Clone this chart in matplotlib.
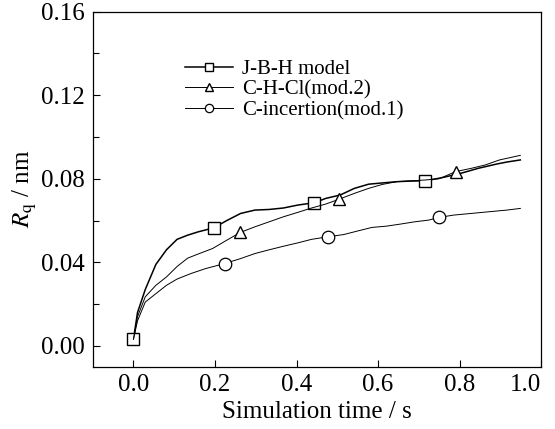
import numpy as np
import matplotlib
matplotlib.use('Agg')
import matplotlib.pyplot as plt
from matplotlib.ticker import MultipleLocator

plt.rcParams['font.family'] = ['Liberation Serif', 'DejaVu Serif']
plt.rcParams['mathtext.fontset'] = 'stix'

# J-B-H model
jbh_t = [0, 0.01, 0.029, 0.055, 0.081, 0.107, 0.133, 0.159, 0.197, 0.229, 0.263, 0.298,
         0.333, 0.368, 0.403, 0.443, 0.472, 0.507, 0.542, 0.577, 0.611, 0.646, 0.681,
         0.716, 0.759, 0.803, 0.846, 0.89, 0.916, 0.949]
jbh_rq = [0.0032, 0.016, 0.027, 0.039, 0.046, 0.051, 0.053, 0.0546, 0.0565, 0.060, 0.0634,
          0.065, 0.0653, 0.066, 0.0674, 0.0685, 0.0706, 0.0722, 0.0754, 0.0774, 0.078,
          0.0786, 0.0789, 0.079, 0.0806, 0.0826, 0.085, 0.087, 0.088, 0.089]
jbh_marks = [0, 8, 15, 23]

# C-H-Cl (mod.2)
chcl_t = [0, 0.01, 0.029, 0.055, 0.081, 0.107, 0.133, 0.159, 0.194, 0.229, 0.262, 0.298,
          0.333, 0.368, 0.403, 0.437, 0.472, 0.503, 0.542, 0.577, 0.611, 0.646, 0.681,
          0.716, 0.75, 0.79, 0.829, 0.863, 0.898, 0.949]
chcl_rq = [0.0032, 0.014, 0.0235, 0.029, 0.033, 0.038, 0.042, 0.044, 0.0466, 0.0506, 0.0543,
           0.057, 0.0594, 0.0618, 0.0639, 0.066, 0.0679, 0.0701, 0.073, 0.0754, 0.0773,
           0.0786, 0.079, 0.0794, 0.080, 0.0834, 0.085, 0.0866, 0.089, 0.0912]
chcl_marks = [10, 17, 25]

# C-incertion (mod.1)
cins_t = [0, 0.01, 0.029, 0.055, 0.081, 0.107, 0.142, 0.177, 0.2235, 0.263, 0.298, 0.333,
          0.368, 0.403, 0.437, 0.4765, 0.516, 0.55, 0.585, 0.62, 0.655, 0.69, 0.724, 0.75,
          0.785, 0.829, 0.872, 0.916, 0.949]
cins_rq = [0.0032, 0.012, 0.021, 0.025, 0.029, 0.032, 0.0347, 0.037, 0.0394, 0.0418, 0.0442,
           0.046, 0.0477, 0.0493, 0.051, 0.0522, 0.0533, 0.055, 0.0567, 0.0573, 0.0583,
           0.0594, 0.0602, 0.0615, 0.0626, 0.0634, 0.0642, 0.065, 0.0658]
cins_marks = [8, 15, 23]

fig = plt.figure(figsize=(5.55, 4.29), dpi=100)
ax = fig.add_axes([0.167, 0.145, 0.808, 0.828])

ax.plot(jbh_t, jbh_rq, color='black', lw=1.1, marker='s', markevery=jbh_marks,
        ms=8, mfc='white', mec='black', mew=1.0, label='J-B-H model')
ax.plot(chcl_t, chcl_rq, color='black', lw=0.7, marker='^', markevery=chcl_marks,
        ms=9, mfc='white', mec='black', mew=1.0, label='C-H-Cl(mod.2)')
ax.plot(cins_t, cins_rq, color='black', lw=0.7, marker='o', markevery=cins_marks,
        ms=9, mfc='white', mec='black', mew=0.9, label='C-incertion(mod.1)')

ax.set_xlim(-0.1, 1.0)
ax.set_ylim(-0.01, 0.16)
ax.xaxis.set_major_locator(MultipleLocator(0.2))
ax.yaxis.set_major_locator(MultipleLocator(0.04))
ax.yaxis.set_minor_locator(MultipleLocator(0.02))
ax.xaxis.set_major_formatter(plt.FuncFormatter(lambda v, p: f'{v:.1f}'))
ax.yaxis.set_major_formatter(plt.FuncFormatter(lambda v, p: f'{v:.2f}'))
ax.tick_params(which='both', direction='in', labelsize=18)
ax.tick_params(which='major', length=5, width=0.8)
ax.tick_params(which='minor', length=4, width=0.8)
ax.tick_params(axis='y', pad=6)
ax.tick_params(axis='x', pad=5)
for s in ax.spines.values():
    s.set_linewidth(0.9)

ax.set_xlabel('Simulation time / s', fontsize=18, labelpad=4)
ax.set_ylabel(r'$R_\mathrm{q}$ / nm', fontsize=18, labelpad=1)

leg = ax.legend(loc='upper left', bbox_to_anchor=(0.205, 0.865), frameon=False,
                fontsize=15, handlelength=2.3, handletextpad=0.45,
                labelspacing=0.05, borderpad=0, borderaxespad=0)
for ln in leg.get_lines():
    ln.set_markersize(6)

# keep the "1.0" label inside the figure edge
fig.canvas.draw()
ax.xaxis.get_major_ticks()[-1].label1.set_horizontalalignment('right')
for t in ax.xaxis.get_major_ticks():
    if t.get_loc() > 0.99:
        t.label1.set_horizontalalignment('right')

fig.savefig('out.png', dpi=100)
